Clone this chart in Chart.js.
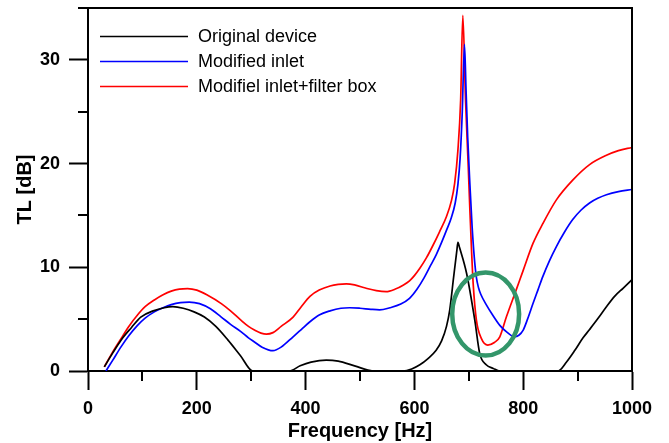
<!DOCTYPE html>
<html>
<head>
<meta charset="utf-8">
<script src="https://cdn.jsdelivr.net/npm/chart.js@4.4.1/dist/chart.umd.min.js"></script>
<style>
html,body{margin:0;padding:0;background:#fff;}
#wrap{width:669px;height:443px;position:relative;}
</style>
</head>
<body>
<div id="wrap"><canvas id="c" width="669" height="443"></canvas></div>
<script>
// ---- Data ----
const seriesNames = ["Original device", "Modified inlet", "Modifiel inlet+filter box"];

const freqBlack = [30, 45, 61, 80, 97, 120, 140, 156, 175, 195, 214, 235, 257, 280, 303, 370, 390, 410, 438, 460, 490, 524, 579, 595, 610, 625, 640, 650, 659, 665, 672, 678, 680, 683, 696, 711, 720, 732, 745, 757, 864, 880, 895, 910, 922, 938, 953, 968, 984, 1000];
const tlBlack   = [0.4, 1.7, 3.0, 4.2, 5.2, 5.8, 6.1, 6.2, 6.05, 5.7, 5.2, 4.3, 3.0, 1.5, 0, 0, 0.5, 0.85, 1.05, 0.95, 0.5, 0, 0, 0.2, 0.6, 1.2, 2.0, 2.9, 4.3, 5.9, 9.0, 11.6, 12.4, 11.9, 9.4, 4.9, 1.7, 0.6, 0.25, 0, 0, 0.9, 2.0, 3.2, 4.0, 5.1, 6.2, 7.2, 8.0, 8.8];

const freqBlue = [33, 45, 61, 75, 91, 105, 122, 138, 153, 170, 186, 205, 225, 245, 262, 281, 295, 306, 320, 340, 355, 377, 392, 408, 425, 445, 465, 481, 500, 520, 536, 555, 575, 591, 605, 618, 630, 640, 650, 660, 668, 675, 680, 684, 688, 692, 695, 698, 702, 706, 710, 714, 718, 722, 732, 745, 757, 770, 784, 792, 800, 808, 818, 827, 836, 848, 861, 876, 891, 906, 922, 937, 953, 975, 1000];
const tlBlue   = [0, 1.0, 2.35, 3.4, 4.4, 5.1, 5.7, 6.1, 6.4, 6.6, 6.65, 6.5, 6.0, 5.2, 4.5, 3.8, 3.2, 2.8, 2.3, 1.96, 2.3, 3.3, 4.0, 4.75, 5.4, 5.8, 6.05, 6.1, 6.05, 5.95, 5.9, 6.1, 6.45, 7.0, 7.9, 9.0, 10.2, 11.2, 12.4, 13.7, 14.8, 16.2, 18.0, 20.5, 25.0, 31.5, 27.0, 22.5, 18.0, 14.0, 11.0, 9.0, 8.0, 7.4, 6.4, 5.3, 4.4, 3.75, 3.3, 3.45, 3.95, 5.0, 6.5, 7.8, 9.1, 10.6, 12.0, 13.4, 14.6, 15.5, 16.2, 16.65, 17.0, 17.3, 17.5];

const freqRed = [30, 45, 61, 75, 91, 105, 122, 138, 153, 168, 183, 200, 220, 245, 262, 281, 295, 306, 318, 328, 340, 355, 377, 392, 408, 425, 445, 460, 475, 490, 510, 530, 548, 565, 580, 591, 600, 610, 622, 634, 646, 659, 668, 674, 680, 685, 689, 694, 699, 702, 705, 708, 714, 723, 735, 747, 757, 769, 787, 800, 818, 836, 861, 891, 922, 953, 975, 1000];
const tlRed   = [0.4, 1.8, 3.15, 4.3, 5.4, 6.2, 6.85, 7.35, 7.7, 7.9, 7.95, 7.8, 7.3, 6.5, 5.8, 4.9, 4.3, 3.95, 3.65, 3.55, 3.7, 4.3, 5.2, 6.2, 7.2, 7.8, 8.2, 8.35, 8.4, 8.3, 8.0, 7.75, 7.65, 7.9, 8.3, 8.7, 9.2, 9.9, 10.9, 12.1, 13.4, 14.9, 16.4, 18.1, 21.3, 26.1, 34.3, 26.1, 19.7, 15.5, 11.7, 8.45, 4.9, 3.15, 2.5, 2.75, 3.3, 5.2, 7.8, 9.7, 12.3, 14.2, 16.5, 18.4, 19.9, 20.8, 21.25, 21.55];

const xTickLabels = [0, 200, 400, 600, 800, 1000];
const yTickLabels = [0, 10, 20, 30];

// highlighted region (ellipse) in data units: centre Hz, centre dB, half-width Hz, half-height dB
const highlight = {f: 731, tl: 5.5, rf: 61.5, rtl: 4.0};

const pts = (fx, vy) => fx.map((f, i) => ({x: f, y: vy[i]}));

const FONT = 'Arial, "Liberation Sans", sans-serif';

const decor = {
  id: 'decor',
  afterDatasetsDraw(chart) {
    const ctx = chart.ctx;
    const a = chart.chartArea;
    const xs = chart.scales.x, ys = chart.scales.y;
    ctx.save();
    ctx.strokeStyle = '#000';
    ctx.lineWidth = 2;
    ctx.beginPath();
    ctx.moveTo(a.left, a.top);
    ctx.lineTo(a.right, a.top);
    ctx.lineTo(a.right, a.bottom);
    ctx.stroke();
    ctx.beginPath();
    for (let f = 100; f < 1000; f += 200) {
      const px = Math.round(xs.getPixelForValue(f));
      ctx.moveTo(px, a.bottom);
      ctx.lineTo(px, a.bottom + 10);
    }
    for (let v = 5; v <= 35; v += 10) {
      const py = Math.round(ys.getPixelForValue(v));
      ctx.moveTo(a.left, py);
      ctx.lineTo(a.left - 10, py);
    }
    ctx.stroke();
    const cx = xs.getPixelForValue(highlight.f);
    const cy = ys.getPixelForValue(highlight.tl);
    const rx = Math.abs(xs.getPixelForValue(highlight.f + highlight.rf) - cx);
    const ry = Math.abs(ys.getPixelForValue(highlight.tl + highlight.rtl) - cy);
    ctx.strokeStyle = '#33966a';
    ctx.lineWidth = 4.5;
    ctx.beginPath();
    ctx.ellipse(cx, cy, rx, ry, 0, 0, Math.PI * 2);
    ctx.stroke();
    const ly = [36.5, 61.5, 86.5];
    ctx.font = '18px ' + FONT;
    ctx.textBaseline = 'middle';
    ctx.textAlign = 'left';
    chart.data.datasets.forEach((ds, i) => {
      ctx.strokeStyle = ds.borderColor;
      ctx.lineWidth = 1.6;
      ctx.beginPath();
      ctx.moveTo(100, ly[i]);
      ctx.lineTo(188, ly[i]);
      ctx.stroke();
      ctx.fillStyle = '#000';
      ctx.fillText(ds.label, 198, ly[i] + 1);
    });
    ctx.restore();
  }
};

new Chart(document.getElementById('c'), {
  type: 'line',
  data: {
    datasets: [
      {label: seriesNames[0], data: pts(freqBlack, tlBlack), borderColor: '#000000', borderWidth: 1.7, pointRadius: 0, cubicInterpolationMode: 'monotone', fill: false},
      {label: seriesNames[1], data: pts(freqBlue, tlBlue), borderColor: '#0000ff', borderWidth: 1.7, pointRadius: 0, cubicInterpolationMode: 'monotone', fill: false},
      {label: seriesNames[2], data: pts(freqRed, tlRed), borderColor: '#ff0000', borderWidth: 1.7, pointRadius: 0, cubicInterpolationMode: 'monotone', fill: false}
    ]
  },
  options: {
    responsive: false,
    animation: false,
    devicePixelRatio: 1,
    layout: {padding: {top: 8, right: 37, left: 0, bottom: 0}},
    plugins: {legend: {display: false}, tooltip: {enabled: false}},
    scales: {
      x: {
        type: 'linear', min: 0, max: 1000,
        afterBuildTicks: s => { s.ticks = xTickLabels.map(v => ({value: v})); },
        afterFit: s => { s.height = 72; s.paddingLeft = 0; s.paddingRight = 0; },
        grid: {drawOnChartArea: false, drawTicks: true, tickLength: 19, tickColor: '#000', tickWidth: 2},
        border: {display: true, color: '#000', width: 2},
        ticks: {color: '#000', font: {family: FONT, size: 18, weight: 'bold'}, padding: 8, maxRotation: 0, callback: v => String(v)},
        title: {display: true, text: 'Frequency [Hz]', color: '#000', font: {family: FONT, size: 20, weight: 'bold'}, padding: {top: 0, bottom: 0}}
      },
      y: {
        type: 'linear', min: 0, max: 35,
        afterBuildTicks: s => { s.ticks = yTickLabels.map(v => ({value: v})); },
        afterFit: s => { s.width = 88; s.paddingTop = 0; s.paddingBottom = 0; },
        grid: {drawOnChartArea: false, drawTicks: true, tickLength: 19, tickColor: '#000', tickWidth: 2},
        border: {display: true, color: '#000', width: 2},
        ticks: {color: '#000', font: {family: FONT, size: 18, weight: 'bold'}, padding: 9, callback: v => String(v)},
        title: {display: true, text: 'TL [dB]', color: '#000', font: {family: FONT, size: 20, weight: 'bold'}, padding: {top: 13, bottom: 0}}
      }
    }
  },
  plugins: [decor]
});
</script>
</body>
</html>
